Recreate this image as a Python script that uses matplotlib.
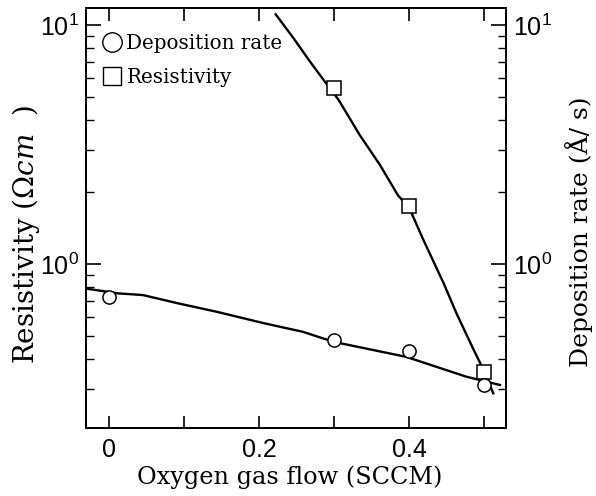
import matplotlib.pyplot as plt
from matplotlib.ticker import FixedLocator, LogLocator, NullFormatter

# measured points
res_x = [0.3, 0.4, 0.5]
res_y = [5.45, 1.75, 0.355]
dep_x = [0.0, 0.3, 0.4, 0.5]
dep_y = [0.726, 0.481, 0.434, 0.312]

# hand-drawn fit curves
res_fit_x = [0.222, 0.246, 0.268, 0.286, 0.306, 0.334, 0.361, 0.385, 0.40, 0.419,
             0.446, 0.463, 0.486, 0.497, 0.512]
res_fit_y = [11.1, 8.8, 7.02, 5.89, 4.86, 3.47, 2.60, 1.94, 1.72, 1.26,
             0.83, 0.622, 0.437, 0.372, 0.288]
dep_fit_x = [-0.031, 0.012, 0.045, 0.092, 0.144, 0.207, 0.258, 0.299, 0.396, 0.476,
             0.503, 0.521]
dep_fit_y = [0.79, 0.754, 0.742, 0.685, 0.631, 0.565, 0.521, 0.473, 0.409, 0.338,
             0.322, 0.312]

serif = "DejaVu Serif"
plt.rcParams['font.family'] = 'Liberation Sans'
plt.rcParams['mathtext.fontset'] = 'custom'
plt.rcParams['mathtext.rm'] = 'DejaVu Serif'
plt.rcParams['mathtext.it'] = 'DejaVu Serif:italic'

fig = plt.figure(figsize=(5.96, 4.96), dpi=100)
ax = fig.add_axes([0.144, 0.137, 0.705, 0.847])
ax2 = ax.twinx()

ax.set_yscale('log')
ax2.set_yscale('log')
ax.set_xlim(-0.031, 0.529)
ax.set_ylim(0.206, 11.8)
ax2.set_ylim(0.206, 11.8)

ax.plot(res_fit_x, res_fit_y, color='black', lw=1.7, zorder=2)
ax2.plot(dep_fit_x, dep_fit_y, color='black', lw=1.7, zorder=2)
ax.plot(res_x, res_y, ls='none', marker='s', ms=9.5, mfc='white', mec='black', mew=1.1, zorder=3)
ax2.plot(dep_x, dep_y, ls='none', marker='o', ms=9.5, mfc='white', mec='black', mew=1.1, zorder=3)

# legend handles
ax.plot([], [], ls='none', marker='o', ms=14, mfc='white', mec='black', mew=1.0, label='Deposition rate')
ax.plot([], [], ls='none', marker='s', ms=12.5, mfc='white', mec='black', mew=1.0, label='Resistivity')
ax.legend(loc='upper left', bbox_to_anchor=(0.040, 0.937), frameon=False,
          handletextpad=0.3, handlelength=0.9, borderaxespad=0, borderpad=0,
          labelspacing=0.72, prop={'family': serif, 'size': 14.3})

ax.xaxis.set_major_locator(FixedLocator([0, 0.2, 0.4]))
ax.xaxis.set_minor_locator(FixedLocator([0.1, 0.3, 0.5]))
ax.set_xticklabels(['0', '0.2', '0.4'])
for a in (ax, ax2):
    a.yaxis.set_major_locator(LogLocator(base=10, numticks=5))
    a.yaxis.set_minor_locator(LogLocator(base=10, subs=range(2, 10), numticks=12))
    a.yaxis.set_minor_formatter(NullFormatter())
    for s in a.spines.values():
        s.set_linewidth(1.3)

ax.tick_params(axis='x', which='both', direction='in', top=True, length=9, width=1.2, labelsize=18, pad=7)
ax.tick_params(axis='y', which='major', direction='in', length=11, width=1.2, labelsize=18, pad=5)
ax.tick_params(axis='y', which='minor', direction='in', length=6, width=1.0)
ax2.tick_params(axis='y', which='major', direction='in', length=11, width=1.2, labelsize=18, pad=5)
ax2.tick_params(axis='y', which='minor', direction='in', length=6, width=1.0)

ax.set_xlabel('Oxygen gas flow (SCCM)', family=serif, fontsize=17.3)
ax.xaxis.set_label_coords(0.486, -0.088)
ax.set_ylabel(r'Resistivity ($\Omega cm$  )', family=serif, fontsize=20)
ax.yaxis.set_label_coords(-0.105, 0.46)
ax2.set_ylabel('Deposition rate (Å/ s)', family=serif, fontsize=18, rotation=90)
ax2.yaxis.set_label_coords(1.140, 0.467)

fig.savefig('out.png', dpi=100)
